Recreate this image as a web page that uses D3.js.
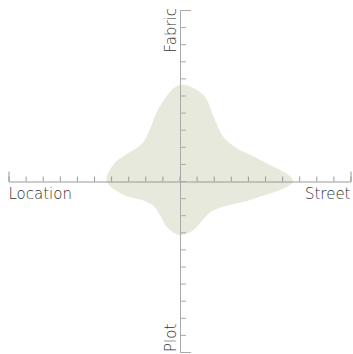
<!DOCTYPE html>
<html>
<head>
<meta charset="utf-8">
<script src="https://cdn.jsdelivr.net/npm/d3@7"></script>
<style>
  html, body { margin: 0; padding: 0; background: #fff; }
  svg { display: block; }
  .axis-label { font-family: "DejaVu Sans", sans-serif; font-weight: 200; font-size: 15px; fill: #333; }
</style>
</head>
<body>
<svg id="chart" width="353" height="354"></svg>
<script>
// Axis names, clockwise from the top
const axes = ["Fabric", "Street", "Plot", "Location"];
// Outline of the profile: radius (axis units) every 15 degrees, clockwise from Fabric
const bearings = d3.range(0, 360, 15);
const radii = [5.61, 5.25, 4.14, 3.64, 3.85, 4.84, 6.64, 4.27, 2.97, 2.57, 2.67, 3.0,
               3.16, 2.8, 2.3, 2.1, 2.34, 3.3, 4.26, 3.95, 3.37, 3.09, 3.48, 4.5];
const tickValues = d3.range(-10, 11, 1);

const cx = 179.5, cy = 181, R = 171;

const svg = d3.select("#chart");

// Signed scales spanning each full axis
const sx = d3.scaleLinear().domain([-10, 10]).range([cx - R, cx + R]);
const sy = d3.scaleLinear().domain([-10, 10]).range([cy + R, cy - R]);
const r = d3.scaleLinear().domain([0, 10]).range([0, R]);

// Smooth closed profile
const profile = d3.lineRadial()
  .angle((d, i) => bearings[i] * Math.PI / 180)
  .radius(d => r(d))
  .curve(d3.curveCatmullRomClosed.alpha(0.5));

svg.append("path")
  .attr("transform", `translate(${cx},${cy})`)
  .attr("d", profile(radii))
  .attr("fill", "#e8e9dd")
  .attr("stroke", "none");

// Horizontal axis, ticks pointing up
svg.append("g")
  .attr("transform", `translate(0,${cy + 0.5})`)
  .call(d3.axisTop(sx).tickValues(tickValues).tickSizeInner(5).tickSizeOuter(10).tickFormat(""))
  .call(g => g.selectAll("path, line").attr("stroke", "#999"));

// Vertical axis, ticks pointing right
svg.append("g")
  .attr("transform", `translate(${cx + 0.5},0)`)
  .call(d3.axisRight(sy).tickValues(tickValues).tickSizeInner(6).tickSizeOuter(11).tickFormat(""))
  .call(g => g.selectAll("path, line").attr("stroke", "#aaa"));

// Axis names at the ends of each axis
svg.append("text").attr("class", "axis-label")
  .attr("transform", `translate(${cx - 4},${cy - R - 2}) rotate(-90)`)
  .attr("text-anchor", "end").text(axes[0]);
svg.append("text").attr("class", "axis-label")
  .attr("x", cx + R).attr("y", cy + 17.5)
  .attr("text-anchor", "end").text(axes[1]);
svg.append("text").attr("class", "axis-label")
  .attr("transform", `translate(${cx - 4},${cy + R}) rotate(-90)`)
  .attr("text-anchor", "start").text(axes[2]);
svg.append("text").attr("class", "axis-label")
  .attr("x", cx - R).attr("y", cy + 17.5)
  .attr("text-anchor", "start").text(axes[3]);
</script>
</body>
</html>
